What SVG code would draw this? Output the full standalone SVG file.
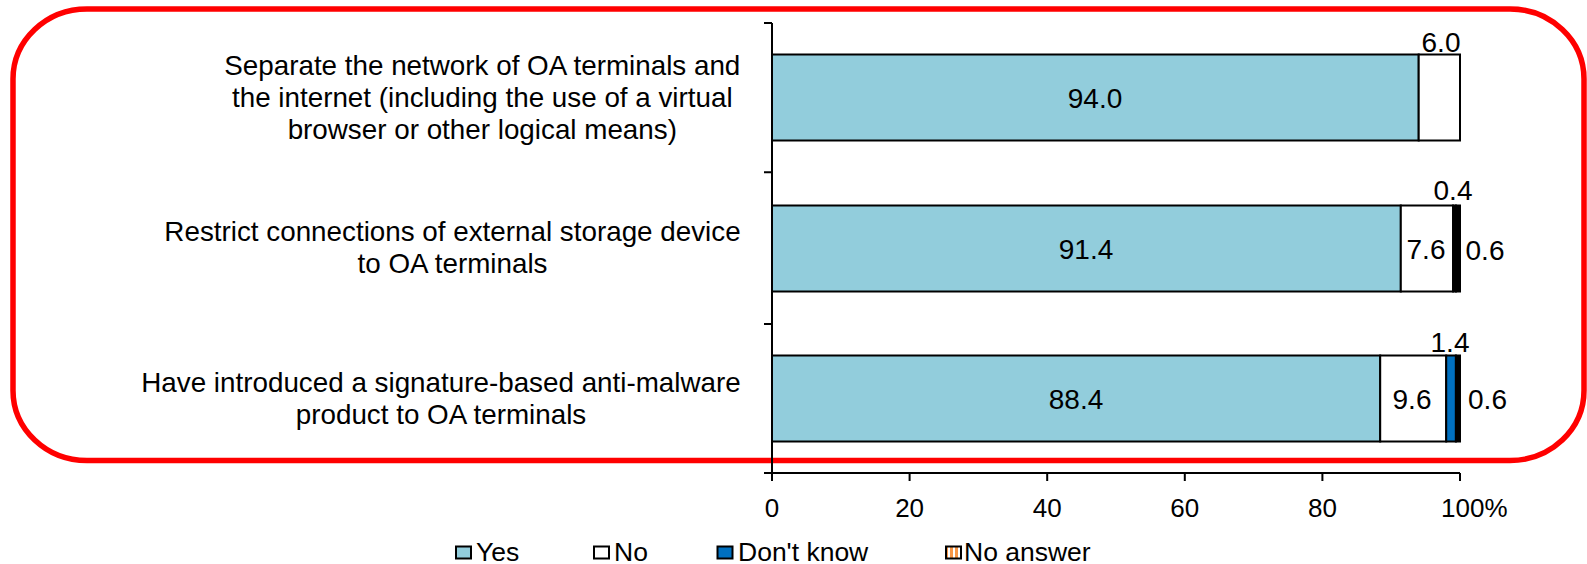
<svg xmlns="http://www.w3.org/2000/svg" width="1587" height="564" viewBox="0 0 1587 564">
<defs>
<style>
text{font-family:"Liberation Sans",Arial,sans-serif;fill:#000}
.cat{font-size:27.8px;text-anchor:middle}
.val{font-size:28px;text-anchor:middle}
.ax{font-size:26px;text-anchor:middle}
.leg{font-size:26.5px}
.seg{stroke:#000;stroke-width:2}
.yes{fill:#92CDDC}
.no{fill:#FFFFFF}
.dk{fill:#0070C0}
.na{fill:url(#naPat)}
.blk{fill:#000}
.axis{stroke:#000;stroke-width:2;fill:none}
</style>
<pattern id="naPat" patternUnits="userSpaceOnUse" width="5" height="5">
<rect width="5" height="5" fill="#FFFFFF"/>
<rect width="3" height="5" fill="#F79646"/>
</pattern>
</defs>
<rect width="1587" height="564" fill="#FFFFFF"/>

<g id="frame">
<rect x="13" y="9" width="1571" height="451.5" rx="74" ry="70" fill="none" stroke="#FF0000" stroke-width="5.5"/>
</g>

<g id="axes">
<path class="axis" d="M772 23V481 M764 23H772 M764 172.3H772 M764 324H772 M764 473H1460 M909.6 473V481 M1047.2 473V481 M1184.8 473V481 M1322.4 473V481 M1460 473V481"/>
<text class="ax" x="772" y="517">0</text>
<text class="ax" x="909.6" y="517">20</text>
<text class="ax" x="1047.2" y="517">40</text>
<text class="ax" x="1184.8" y="517">60</text>
<text class="ax" x="1322.4" y="517">80</text>
<text x="1441" y="517" style="font-size:26px">100%</text>
</g>

<g id="row1">
<text class="cat" x="482.3" y="75">Separate the network of OA terminals and</text>
<text class="cat" x="482.3" y="107">the internet (including the use of a virtual</text>
<text class="cat" x="482.3" y="139">browser or other logical means)</text>
<rect class="seg yes" x="772" y="54.5" width="646.7" height="86"/>
<rect class="seg no" x="1418.7" y="54.5" width="41.3" height="86"/>
<text class="val" x="1095" y="108">94.0</text>
<text class="val" x="1441" y="52">6.0</text>
</g>

<g id="row2">
<text class="cat" x="452.5" y="241">Restrict connections of external storage device</text>
<text class="cat" x="452.5" y="273">to OA terminals</text>
<rect class="seg yes" x="772" y="205.5" width="628.8" height="86"/>
<rect class="seg no" x="1400.8" y="205.5" width="52.3" height="86"/>
<rect class="seg blk" x="1453.1" y="205.5" width="2.8" height="86"/>
<rect class="seg blk" x="1455.9" y="205.5" width="4.1" height="86"/>
<text class="val" x="1086" y="258.5">91.4</text>
<text class="val" x="1426" y="258.5">7.6</text>
<text class="val" x="1453" y="199.5">0.4</text>
<text class="val" x="1485" y="260">0.6</text>
</g>

<g id="row3">
<text class="cat" x="441" y="392">Have introduced a signature-based anti-malware</text>
<text class="cat" x="441" y="424">product to OA terminals</text>
<rect class="seg yes" x="772" y="355.5" width="608.2" height="86"/>
<rect class="seg no" x="1380.2" y="355.5" width="66" height="86"/>
<rect class="seg dk" x="1446.2" y="355.5" width="9.7" height="86"/>
<rect class="seg blk" x="1455.9" y="355.5" width="4.1" height="86"/>
<text class="val" x="1076" y="408.5">88.4</text>
<text class="val" x="1412" y="408.5">9.6</text>
<text class="val" x="1450" y="351.5">1.4</text>
<text class="val" x="1487.5" y="408.5">0.6</text>
</g>

<g id="legend">
<rect class="seg yes" x="456" y="546.5" width="15" height="12"/>
<text class="leg" x="476" y="560.5">Yes</text>
<rect class="seg no" x="594" y="546.5" width="15" height="12"/>
<text class="leg" x="614" y="560.5">No</text>
<rect class="seg dk" x="717.5" y="546.5" width="15" height="12"/>
<text class="leg" x="738" y="560.5">Don't know</text>
<rect class="seg na" x="946" y="546.5" width="15" height="12"/>
<text class="leg" x="964" y="560.5">No answer</text>
</g>
</svg>
